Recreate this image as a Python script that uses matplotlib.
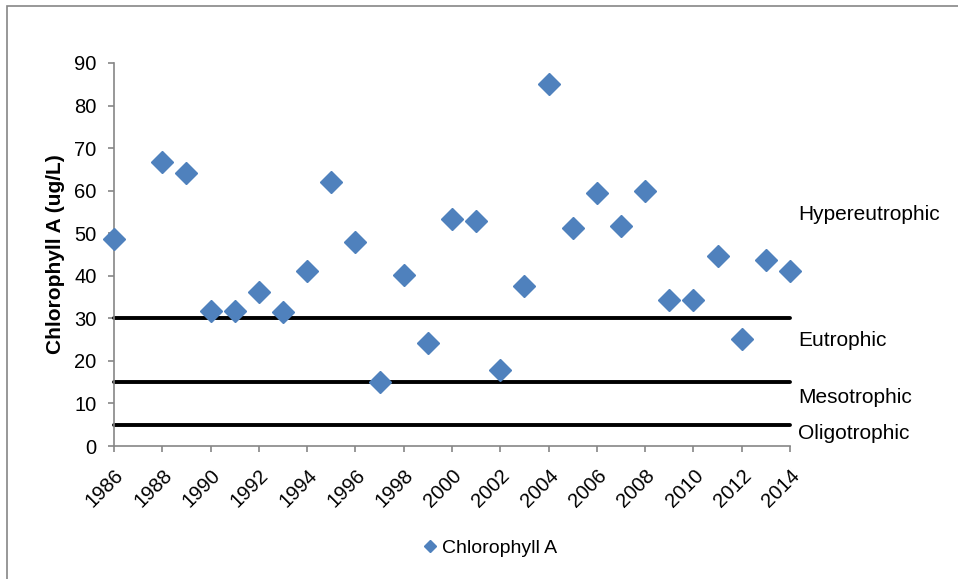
import matplotlib.pyplot as plt
from matplotlib.patches import Rectangle

years = [1986, 1988, 1989, 1990, 1991, 1992, 1993, 1994, 1995, 1996,
         1997, 1998, 1999, 2000, 2001, 2002, 2003, 2004, 2005, 2006,
         2007, 2008, 2009, 2010, 2011, 2012, 2013, 2014]
chl_a = [48.7, 66.8, 64.2, 31.8, 31.7, 36.2, 31.4, 41.1, 62.0, 48.0,
         15.1, 40.2, 24.1, 53.4, 52.9, 17.9, 37.5, 85.1, 51.3, 59.4,
         51.6, 60.0, 34.4, 34.4, 44.6, 25.2, 43.8, 41.1]

# trophic state boundaries and where the class names sit
limits = [30, 15, 5]
class_names = ['Hypereutrophic', 'Eutrophic', 'Mesotrophic', 'Oligotrophic']
class_y = [54.5, 24.8, 11.3, 2.9]

plt.rcParams['font.family'] = ['Liberation Sans', 'DejaVu Sans']

fig = plt.figure(figsize=(9.58, 5.79), dpi=100)
ax = fig.add_axes([0.119, 0.2297, 0.7056, 0.6615])

grey = '#868686'

for v in limits:
    ax.plot([1986, 2014], [v, v], color='black', lw=2.8,
            solid_capstyle='round', zorder=2, clip_on=False)

ax.plot(years, chl_a, 'D', color='#4F81BD', markersize=11.5,
        markeredgecolor='#4F81BD', label='Chlorophyll A', zorder=3, clip_on=False)

ax.set_xlim(1986, 2014)
ax.set_ylim(0, 90)
ax.set_xticks(range(1986, 2015, 2))
ax.set_yticks(range(0, 91, 10))
ax.tick_params(axis='both', labelsize=14.5, color=grey, length=4.5, width=1.2)
ax.tick_params(axis='y', pad=8)
ax.tick_params(axis='x', pad=10)
for lab in ax.get_xticklabels():
    lab.set_rotation(45)
    lab.set_ha('right')
    lab.set_va('top')
    lab.set_rotation_mode('anchor')

for s in ['top', 'right']:
    ax.spines[s].set_visible(False)
for s in ['left', 'bottom']:
    ax.spines[s].set_color(grey)
    ax.spines[s].set_linewidth(1.2)

ax.set_ylabel('Chlorophyll A (ug/L)', fontsize=15, weight='bold', labelpad=7)

for name, y in zip(class_names, class_y):
    ax.text(1.012, y, name, transform=ax.get_yaxis_transform(),
            fontsize=15, va='center', ha='left')

fig.legend(loc='center', bbox_to_anchor=(0.509, 0.053), frameon=False,
           fontsize=14, handletextpad=0.0, handlelength=1.2, markerscale=0.55)

fig.patches.append(Rectangle((7 / 958, -0.1), 2, 1.1 - 6 / 579, fill=False,
                             edgecolor=grey, lw=1.2, transform=fig.transFigure))

fig.savefig('out.png', dpi=100)
